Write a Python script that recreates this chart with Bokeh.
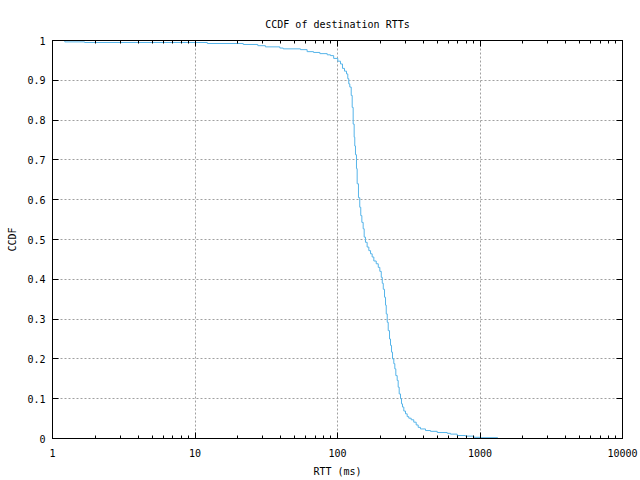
from bokeh.plotting import figure
from bokeh.models import (FixedTicker, LinearAxis, LogAxis, PrintfTickFormatter,
                          CustomJSTickFormatter, Range1d)
from bokeh.embed import file_html
from bokeh.resources import INLINE

# RTT (ms) at which each CCDF level starts (step "after")
rtt_ms = [1, 1.22, 1.68, 12.2, 21.8, 27.6, 31.2, 39.4, 41.6, 55.0, 61.2, 67.9,
          75.2, 84.7, 89.3, 94.0, 100.5, 105, 108.4, 112, 115.7, 118.1, 120,
          122, 124.8, 126.8, 128.8, 130.9, 132.2, 133.7, 135.9, 137.4, 140.3,
          143.3, 145.6, 148.2, 151.4, 153.9, 157.1, 161.4, 165.9, 170.6, 175.1,
          179.9, 186.9, 193.2, 198.2, 202.8, 206.1, 209.5, 213.8, 217.3, 219.8,
          223.4, 227.0, 231.8, 235.5, 239.4, 243.3, 248.4, 252.5, 256.6, 262.3,
          266.6, 271.0, 276.7, 281.2, 285.8, 292.0, 300.1, 308.3, 316.5, 328.9,
          343.0, 356.6, 368.3, 382.2, 414.6, 449.5, 501, 589, 621, 692, 791,
          905, 1008, 1334]
ccdf = [1.0, 0.9965, 0.995, 0.9925, 0.990, 0.987, 0.984, 0.981, 0.979, 0.977,
        0.972, 0.970, 0.967, 0.964, 0.962, 0.955, 0.948, 0.941, 0.930, 0.923,
        0.916, 0.904, 0.891, 0.883, 0.862, 0.832, 0.790, 0.757, 0.735, 0.713,
        0.678, 0.640, 0.605, 0.581, 0.560, 0.543, 0.527, 0.506, 0.493, 0.481,
        0.472, 0.464, 0.456, 0.446, 0.439, 0.430, 0.420, 0.405, 0.390, 0.375,
        0.355, 0.335, 0.313, 0.292, 0.271, 0.250, 0.234, 0.217, 0.200, 0.188,
        0.175, 0.158, 0.146, 0.129, 0.112, 0.100, 0.087, 0.079, 0.069, 0.062,
        0.055, 0.051, 0.047, 0.041, 0.034, 0.028, 0.024, 0.020, 0.018, 0.015,
        0.013, 0.011, 0.0075, 0.006, 0.003, 0.002, 0.002]

x_ticks = [1, 10, 100, 1000, 10000]
x_minor = [d * k for d in [1, 10, 100, 1000] for k in range(2, 10)]
y_ticks = [0, 0.1, 0.2, 0.3, 0.4, 0.5, 0.6, 0.7, 0.8, 0.9, 1]

FONT = "DejaVu Sans Mono"
FS = "10px"

p = figure(width=640, height=480, x_axis_type="log",
           x_range=Range1d(1, 10000), y_range=Range1d(0, 1),
           output_backend="svg", toolbar_location=None,
           min_border_left=52, min_border_right=18, min_border_top=40,
           min_border_bottom=42, title="CCDF of destination RTTs")

p.title.align = "center"
p.title.text_font = FONT
p.title.text_font_size = FS
p.title.text_font_style = "normal"
p.title.text_color = "black"
p.title.standoff = 22

p.outline_line_color = "black"
p.outline_line_width = 1
p.background_fill_color = "white"
p.border_fill_color = "white"

xt = FixedTicker(ticks=x_ticks, minor_ticks=x_minor)
yt = FixedTicker(ticks=y_ticks)

def style(ax, labels=True):
    ax.major_tick_in = 6
    ax.major_tick_out = 0
    ax.minor_tick_in = 3
    ax.minor_tick_out = 0
    ax.axis_line_color = "black"
    ax.major_tick_line_color = "black"
    ax.minor_tick_line_color = "black"
    ax.major_label_text_font = FONT
    ax.major_label_text_font_size = FS
    ax.major_label_text_color = "black"
    ax.axis_label_text_font = FONT
    ax.axis_label_text_font_size = FS
    ax.axis_label_text_font_style = "normal"
    ax.axis_label_text_color = "black"
    if not labels:
        ax.formatter = CustomJSTickFormatter(code="return ''")
        ax.major_label_standoff = 0

xa = p.xaxis[0]
xa.ticker = xt
xa.formatter = PrintfTickFormatter(format="%d")
xa.axis_label = "RTT (ms)"
style(xa)
xa.major_label_standoff = 10
xa.axis_label_standoff = 6

ya = p.yaxis[0]
ya.ticker = yt
ya.formatter = PrintfTickFormatter(format="%g")
ya.axis_label = "CCDF"
style(ya)
ya.major_label_standoff = 7
ya.axis_label_standoff = 6
ya.minor_tick_in = 0

top = LogAxis(ticker=xt)
style(top, labels=False)
p.add_layout(top, "above")

right = LinearAxis(ticker=yt)
style(right, labels=False)
right.minor_tick_in = 0
p.add_layout(right, "right")

for g in (p.xgrid[0], p.ygrid[0]):
    g.grid_line_color = "#a0a0a0"
    g.grid_line_dash = "2 2"
    g.grid_line_width = 1
p.xgrid[0].ticker = xt
p.ygrid[0].ticker = yt

p.step(rtt_ms, ccdf, mode="after", line_color="#56B4E9", line_width=1)

open("out.html", "w").write(file_html(p, INLINE))
